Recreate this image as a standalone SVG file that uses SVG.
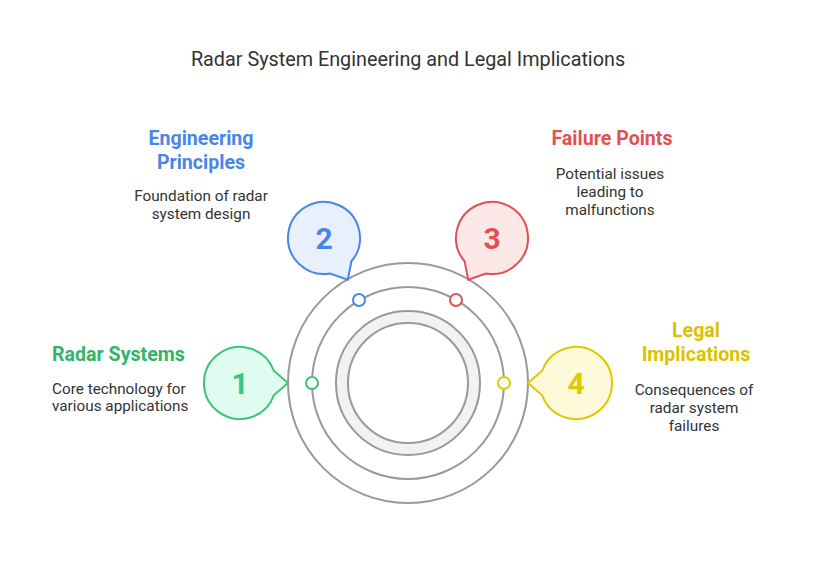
<svg xmlns="http://www.w3.org/2000/svg" width="816" height="564" viewBox="0 0 816 564">
<style>
text{font-family:Roboto,"Liberation Sans",sans-serif}
.t{font-size:19.8px;fill:#333;text-anchor:middle}
.h{font-size:19.6px;font-weight:bold}
.d{font-size:15.3px;fill:#333}
.n{font-size:30px;font-weight:bold;text-anchor:middle}
.ring{fill:none;stroke:#999;stroke-width:2}
.dot{fill:#fff;stroke-width:2}
</style>
<defs><path id="b" d="M48 0L33.8 -12.3A36 36 0 1 0 33.8 12.3Z" stroke-width="2"/></defs>
<rect width="816" height="564" fill="#fff"/>
<text class="t" x="408" y="66">Radar System Engineering and Legal Implications</text>
<g id="rings">
<circle cx="408" cy="383" r="120" class="ring"/>
<circle cx="408" cy="383" r="96" class="ring"/>
<circle cx="408" cy="383" r="66" fill="none" stroke="#f2f2f2" stroke-width="12"/>
<circle cx="408" cy="383" r="72" class="ring"/>
<circle cx="408" cy="383" r="60" class="ring"/>
</g>
<g id="connectors">
<circle cx="312" cy="383" r="6" class="dot" stroke="#3cc47c"/>
<circle cx="359" cy="300" r="6" class="dot" stroke="#4a86e8"/>
<circle cx="456" cy="300" r="6" class="dot" stroke="#e05252"/>
<circle cx="504" cy="383" r="6" class="dot" stroke="#e0c800"/>
</g>
<g id="n1">
<use href="#b" transform="translate(240,383)" fill="#e0fbef" stroke="#3cc47c"/>
<text class="n" x="240" y="394" fill="#3cc47c">1</text>
<text class="h" x="52" y="361" fill="#33b36b">Radar Systems</text>
<text class="d" x="52" y="394">Core technology for</text>
<text class="d" x="52" y="411">various applications</text>
</g>
<g id="n2">
<use href="#b" transform="translate(324,238) rotate(60.3)" fill="#e8f0fe" stroke="#4a86e8"/>
<text class="n" x="324" y="249" fill="#4a86e8">2</text>
<text class="h" x="201" y="145" text-anchor="middle" fill="#4a86e8">Engineering</text>
<text class="h" x="201" y="169" text-anchor="middle" fill="#4a86e8">Principles</text>
<text class="d" x="201" y="201" text-anchor="middle">Foundation of radar</text>
<text class="d" x="201" y="219" text-anchor="middle">system design</text>
</g>
<g id="n3">
<use href="#b" transform="translate(492,238) rotate(119.7)" fill="#fde8e8" stroke="#e05252"/>
<text class="n" x="492" y="249" fill="#e05252">3</text>
<text class="h" x="612" y="145" text-anchor="middle" fill="#e05252">Failure Points</text>
<text class="d" x="610" y="179" text-anchor="middle">Potential issues</text>
<text class="d" x="610" y="197" text-anchor="middle">leading to</text>
<text class="d" x="610" y="215" text-anchor="middle">malfunctions</text>
</g>
<g id="n4">
<use href="#b" transform="translate(576,383) rotate(180)" fill="#fdf9d9" stroke="#e0c800"/>
<text class="n" x="576" y="394" fill="#e0c800">4</text>
<text class="h" x="696" y="337" text-anchor="middle" fill="#d9c300">Legal</text>
<text class="h" x="696" y="361" text-anchor="middle" fill="#d9c300">Implications</text>
<text class="d" x="694" y="395" text-anchor="middle">Consequences of</text>
<text class="d" x="694" y="413" text-anchor="middle">radar system</text>
<text class="d" x="694" y="431" text-anchor="middle">failures</text>
</g>
</svg>
